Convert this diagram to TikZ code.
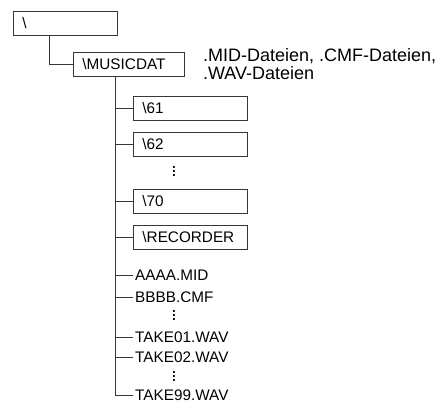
\documentclass[tikz,border=0pt]{standalone}
\usepackage{fontspec}
\setmainfont{Liberation Sans}
\definecolor{treegray}{RGB}{55,55,55}
\usetikzlibrary{positioning, calc}

\begin{document}
\begin{tikzpicture}[
    x=1pt, y=-1pt,
    node distance=11pt,
    tree/.style={draw=treegray, line width=0.9pt},
    dirbox/.style={rectangle, draw=treegray, line width=0.9pt, minimum height=24pt,
                   inner xsep=9pt, inner ysep=0pt, align=left,
                   font=\fontsize{15.3}{17}\selectfont},
    subbox/.style={dirbox, text width=96pt},
    file/.style={inner xsep=2.5pt, inner ysep=2pt, font=\fontsize{15.3}{17}\selectfont},
    note/.style={inner sep=0pt, align=left, font=\fontsize{18}{18}\selectfont},
    more/.style={inner sep=0pt, anchor=south, font=\fontsize{19}{19}\selectfont}
]
\useasboundingbox (0,0) rectangle (446,403);

% directories
\node[dirbox, text width=86pt, anchor=north west] (root) at (13,11) {\textbackslash};
\node[dirbox, text width=93pt, anchor=north west] (musicdat) at (73,52) {\textbackslash MUSICDAT};
\node[note, right=18pt of musicdat] (types) {.MID-Dateien, .CMF-Dateien,\\.WAV-Dateien};

\node[subbox, anchor=north west] (d61) at (133,96) {\textbackslash 61};
\node[subbox, below=of d61] (d62) {\textbackslash 62};
\node[subbox, below=32pt of d62] (d70) {\textbackslash 70};
\node[subbox, below=of d70] (rec) {\textbackslash RECORDER};
\node[more] (dotsA) at (174,176.5) {$\vdots$};

% files
\node[file, anchor=west] (aaaa)   at (132.5,275) {AAAA.MID};
\node[file, anchor=west] (bbbb)   at (132.5,297) {BBBB.CMF};
\node[more] (dotsB) at (174,321) {$\vdots$};
\node[file, anchor=west] (take01) at (132.5,337) {TAKE01.WAV};
\node[file, anchor=west] (take02) at (132.5,357) {TAKE02.WAV};
\node[more] (dotsC) at (174,381.5) {$\vdots$};
\node[file, anchor=west] (take99) at (132.5,395) {TAKE99.WAV};

% connectors
\draw[tree] ([xshift=36pt]root.south west) |- (musicdat.west);
\coordinate (trunk) at ([xshift=42pt]musicdat.south west);
\draw[tree] (trunk) |- (take99);
\draw[tree] (trunk |- d61)    -- (d61.west);
\draw[tree] (trunk |- d62)    -- (d62.west);
\draw[tree] (trunk |- d70)    -- (d70.west);
\draw[tree] (trunk |- rec)    -- (rec.west);
\draw[tree] (trunk |- aaaa)   -- (aaaa.west);
\draw[tree] (trunk |- bbbb)   -- (bbbb.west);
\draw[tree] (trunk |- take01) -- (take01.west);
\draw[tree] (trunk |- take02) -- (take02.west);

\end{tikzpicture}
\end{document}
